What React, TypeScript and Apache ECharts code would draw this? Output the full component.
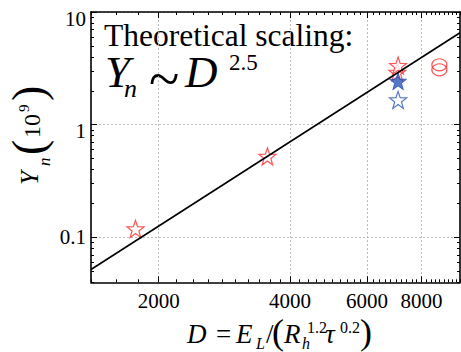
import React, { useEffect, useRef } from "react";
import * as echarts from "echarts";

// ---- data ----
const xRange = [1400, 9800];
const yRange = [0.04, 10];
const xTickValues = [2000, 4000, 6000, 8000];
const yTickValues = [0.1, 1, 10];
const yTickLabels = ["0.1", "1", "10"];

const redStarD = [1770, 3550, 7040, 7070];
const redStarY = [0.119, 0.524, 2.92, 3.35];
const blueFilledD = [7070];
const blueFilledY = [2.43];
const blueOpenD = [7070];
const blueOpenY = [1.66];
const redCircleD = [8790, 8790];
const redCircleY = [3.4, 3.07];
const fitD = [1400, 9800];
const fitY = [0.052, 6.55];

const RED = "#ff2a2a";
const BLUE = "#2b55b8";
const SERIF = "Liberation Serif, Times New Roman, serif";
const STAR =
  "path://M0,-10L2.35,-3.24L9.51,-3.09L3.8,1.24L5.88,8.09L0,4L-5.88,8.09L-3.8,1.24L-9.51,-3.09L-2.35,-3.24Z";

const L = (v: number) => Math.log10(v);
const pair = (xs: number[], ys: number[]) => xs.map((x, i) => [x, ys[i]]);

// minor tick positions (axis decoration)
const xMinor: number[] = [];
for (let v = 1400; v <= 9800; v += 200) if (!xTickValues.includes(v)) xMinor.push(v);
const yMinor: number[] = [];
[0.01, 0.1, 1].forEach((dec) => {
  for (let k = 2; k <= 9; k++) {
    const v = k * dec;
    if (v >= yRange[0] - 1e-9 && v <= yRange[1]) yMinor.push(v);
  }
});

function decoAxis(
  dim: "x" | "y",
  position: string,
  values: number[],
  len: number,
  withLine: boolean,
  withLabel: boolean,
  withSplit: boolean
) {
  const ext = dim === "x" ? xRange : yRange;
  const lv = values.map(L);
  return {
    type: "value",
    gridIndex: 0,
    position,
    min: L(ext[0]),
    max: L(ext[1]),
    axisLine: { show: withLine, onZero: false, lineStyle: { color: "#000", width: 1.6 } },
    axisTick: {
      show: true,
      inside: true,
      length: len,
      customValues: lv,
      lineStyle: { color: "#000", width: 1 },
    },
    axisLabel: {
      show: withLabel,
      customValues: lv,
      margin: dim === "x" ? 8 : 5,
      fontFamily: SERIF,
      fontSize: 21,
      color: "#000",
      rich: {
        lo: { fontFamily: SERIF, fontSize: 21, color: "#000" },
        hi: { fontFamily: SERIF, fontSize: 21, color: "#000", padding: [13, 0, 0, 0] },
      },
      formatter: (v: number) => {
        if (dim === "x") return String(Math.round(Math.pow(10, v) / 100) * 100);
        const i = yTickValues.findIndex((t) => Math.abs(L(t) - v) < 1e-6);
        if (i < 0) return "";
        return (yTickValues[i] < 1 ? "{lo|" : "{hi|") + yTickLabels[i] + "}";
      },
    },
    splitLine: {
      show: withSplit,
      lineStyle: { color: "#b4b4b4", width: 0.9, type: [2, 2] },
    },
    minorTick: { show: false },
  };
}

function txt(text: string, x: number, base: number, fs: number, italic = false) {
  return {
    type: "text",
    x,
    y: base - 0.34 * fs,
    silent: true,
    style: {
      text,
      fontFamily: SERIF,
      fontSize: fs,
      fontStyle: italic ? "italic" : "normal",
      fill: "#000",
      align: "left",
      verticalAlign: "middle",
      textAlign: "left",
      textVerticalAlign: "middle",
    },
  };
}

export default function App() {
  const ref = useRef<HTMLDivElement>(null);
  useEffect(() => {
    if (!ref.current) return;
    const chart = echarts.init(ref.current, null, { renderer: "svg" });
    const option: any = {
      animation: false,
      backgroundColor: "#fff",
      grid: { left: 91, top: 12, right: 1, bottom: 69.7, containLabel: false },
      xAxis: [
        { type: "log", logBase: 10, min: xRange[0], max: xRange[1], show: false, gridIndex: 0 },
        decoAxis("x", "bottom", xTickValues, 6, true, true, true),
        decoAxis("x", "bottom", xMinor, 3, false, false, false),
        decoAxis("x", "top", xTickValues, 6, true, false, false),
        decoAxis("x", "top", xMinor, 3, false, false, false),
      ],
      yAxis: [
        { type: "log", logBase: 10, min: yRange[0], max: yRange[1], show: false, gridIndex: 0 },
        decoAxis("y", "left", yTickValues, 6, true, true, true),
        decoAxis("y", "left", yMinor, 3, false, false, false),
        decoAxis("y", "right", yTickValues, 6, true, false, false),
        decoAxis("y", "right", yMinor, 3, false, false, false),
      ],
      series: [
        {
          type: "scatter",
          name: "red open stars",
          xAxisIndex: 0,
          yAxisIndex: 0,
          data: pair(redStarD, redStarY),
          symbol: STAR,
          symbolSize: 17,
          itemStyle: { color: "#fff", borderColor: RED, borderWidth: 1.2 },
          z: 3,
        },
        {
          type: "scatter",
          name: "blue open stars",
          xAxisIndex: 0,
          yAxisIndex: 0,
          data: pair(blueOpenD, blueOpenY),
          symbol: STAR,
          symbolSize: 17,
          itemStyle: { color: "#fff", borderColor: BLUE, borderWidth: 1.2 },
          z: 3,
        },
        {
          type: "scatter",
          name: "blue filled stars",
          xAxisIndex: 0,
          yAxisIndex: 0,
          data: pair(blueFilledD, blueFilledY),
          symbol: STAR,
          symbolSize: 17,
          itemStyle: { color: BLUE, borderColor: BLUE, borderWidth: 1 },
          z: 4,
        },
        {
          type: "scatter",
          name: "red circles",
          xAxisIndex: 0,
          yAxisIndex: 0,
          data: pair(redCircleD, redCircleY),
          symbol: "circle",
          symbolSize: [15, 12],
          itemStyle: { color: "rgba(0,0,0,0)", borderColor: RED, borderWidth: 1.2 },
          z: 3,
        },
        {
          type: "line",
          name: "scaling",
          xAxisIndex: 0,
          yAxisIndex: 0,
          data: pair(fitD, fitY),
          showSymbol: false,
          symbol: "none",
          lineStyle: { color: "#000", width: 1.6 },
          z: 5,
        },
      ],
      graphic: [
        txt("Theoretical scaling:", 104, 46, 31.5),
        txt("Y", 105, 87, 45, true),
        txt("n", 124, 97, 26, true),
        txt("~", 149, 98, 56),
        txt("D", 185, 87, 45, true),
        txt("2.5", 229, 70, 23),
        // x-axis title
        txt("D", 187, 343, 27, true),
        txt("=", 216, 343, 27),
        txt("E", 236, 343, 27, true),
        txt("L", 256, 348.5, 16, true),
        txt("/", 266, 343, 27),
        txt("(", 272, 344, 36),
        txt("R", 284, 343, 27, true),
        txt("h", 302, 348.5, 16, true),
        txt("1.2", 307, 333, 16),
        txt("τ", 325, 343, 27, true),
        txt("0.2", 340, 333, 16),
        txt(")", 360, 344, 36),
        // y-axis title (rotated)
        {
          type: "group",
          x: 0,
          y: 185,
          rotation: Math.PI / 2,
          children: [
            txt("Y", 0, 38, 25, true),
            txt("n", 19, 50, 17, true),
            txt("(", 30, 44, 46),
            txt("10", 47, 40, 24),
            txt("9", 73, 29, 15),
            txt(")", 84, 44, 46),
          ],
        },
      ],
    };
    chart.setOption(option);
    return () => chart.dispose();
  }, []);
  return (
    <div
      ref={ref}
      style={{ position: "absolute", left: 0, top: 0, width: 461, height: 352, background: "#fff" }}
    />
  );
}
